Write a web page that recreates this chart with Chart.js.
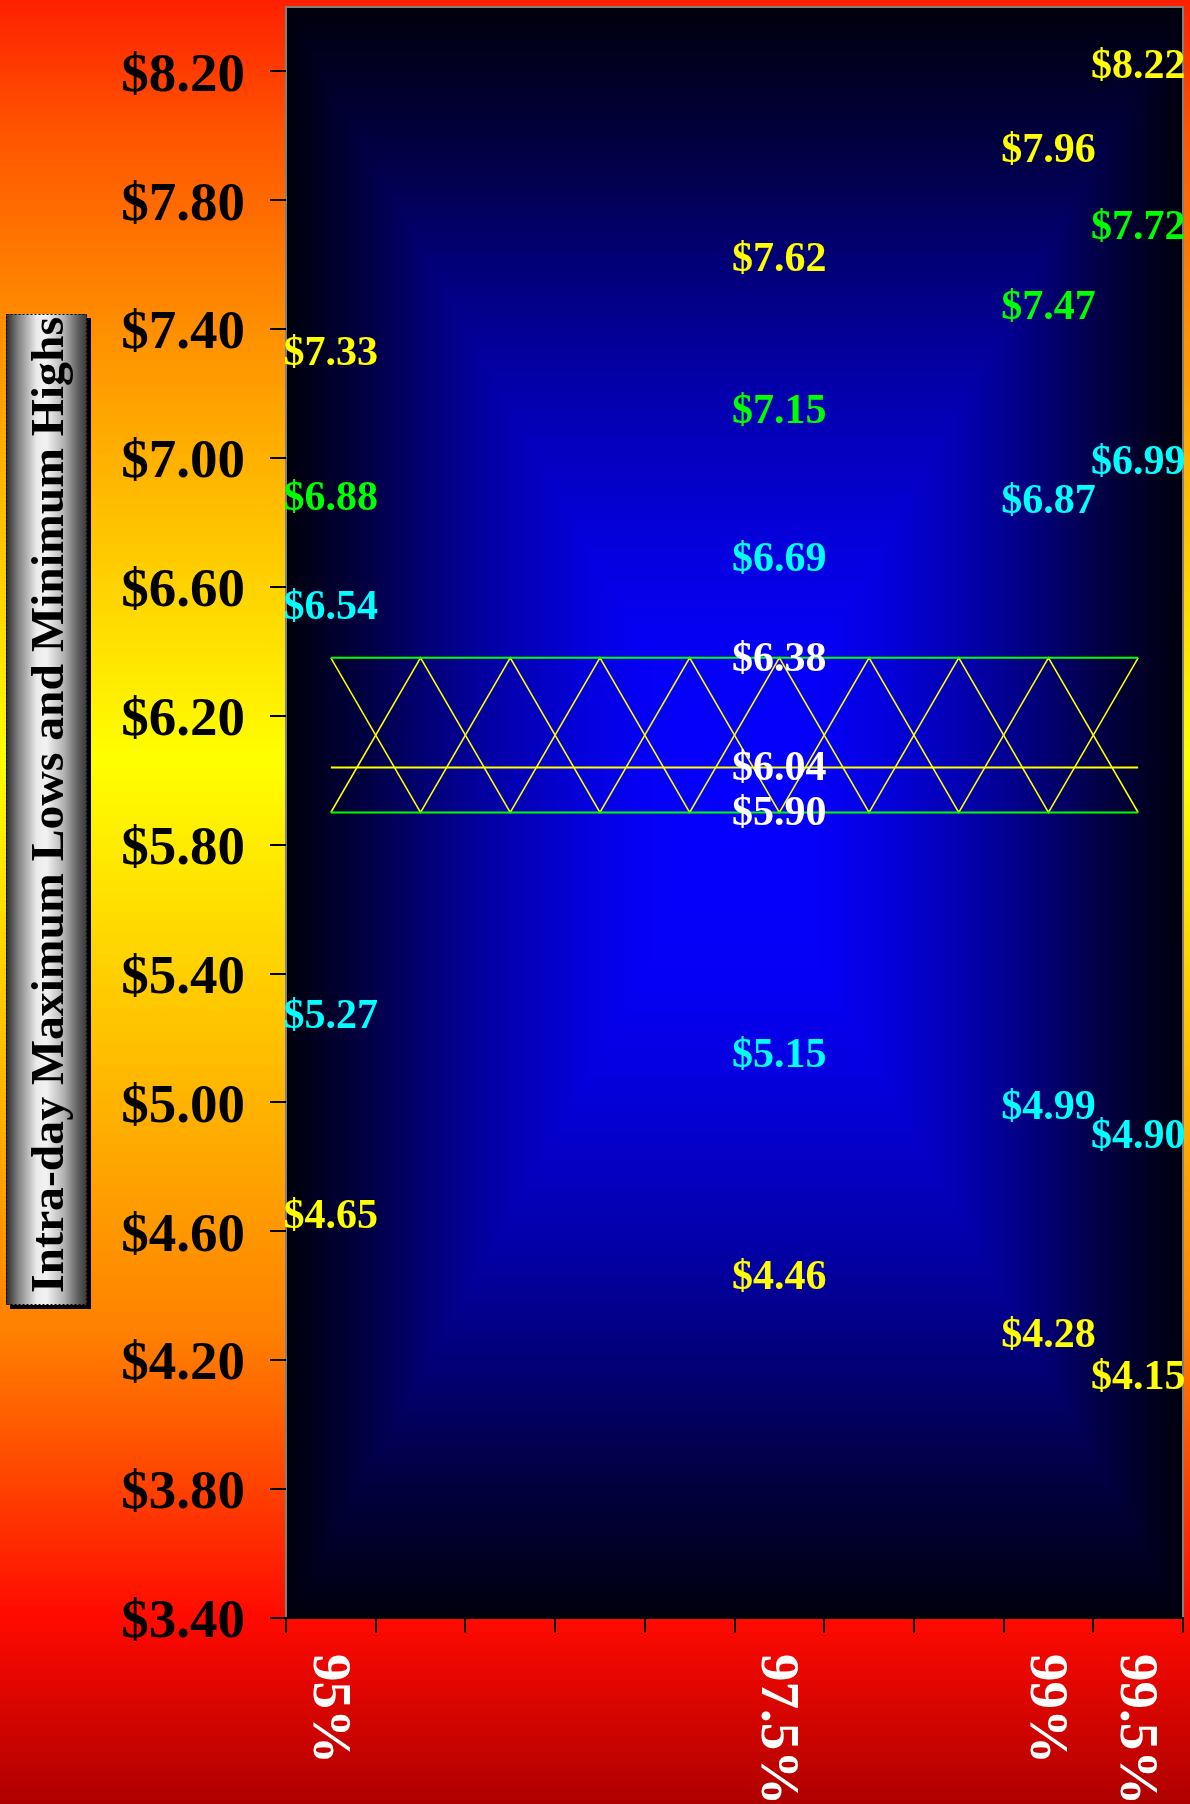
<!DOCTYPE html>
<html>
<head>
<meta charset="utf-8">
<script src="https://cdn.jsdelivr.net/npm/chart.js@4.4.1/dist/chart.umd.min.js"></script>
<style>
  html, body { margin: 0; padding: 0; background: #ff2000; }
  #wrap { width: 1190px; height: 1804px; position: relative; }
</style>
</head>
<body>
<div id="wrap"><canvas id="chart"></canvas></div>
<script>
// ─── DATA ───────────────────────────────────────────────────────
const xLabels = ['95%', '', '', '', '', '97.5%', '', '', '99%', '99.5%'];
const yTicks = [3.4, 3.8, 4.2, 4.6, 5.0, 5.4, 5.8, 6.2, 6.6, 7.0, 7.4, 7.8, 8.2];
const yTitle = 'Intra-day Maximum Lows and Minimum Highs';

// the band in the middle of the plot
const bandTop = [6.38, 6.38, 6.38, 6.38, 6.38, 6.38, 6.38, 6.38, 6.38, 6.38];
const bandMid = [6.04, 6.04, 6.04, 6.04, 6.04, 6.04, 6.04, 6.04, 6.04, 6.04];
const bandLow = [5.90, 5.90, 5.90, 5.90, 5.90, 5.90, 5.90, 5.90, 5.90, 5.90];
const zigDown = [6.38, 5.90, 6.38, 5.90, 6.38, 5.90, 6.38, 5.90, 6.38, 5.90];
const zigUp = [5.90, 6.38, 5.90, 6.38, 5.90, 6.38, 5.90, 6.38, 5.90, 6.38];

// labelled values per confidence level
const outerHigh = [7.33, null, null, null, null, 7.62, null, null, 7.96, 8.22];
const greenHigh = [6.88, null, null, null, null, 7.15, null, null, 7.47, 7.72];
const cyanHigh = [6.54, null, null, null, null, 6.69, null, null, 6.87, 6.99];
const cyanLow = [5.27, null, null, null, null, 5.15, null, null, 4.99, 4.90];
const outerLow = [4.65, null, null, null, null, 4.46, null, null, 4.28, 4.15];
const centreTop = [null, null, null, null, null, 6.38, null, null, null, null];
const centreMid = [null, null, null, null, null, 6.04, null, null, null, null];
const centreLow = [null, null, null, null, null, 5.90, null, null, null, null];

// ─── STYLE ──────────────────────────────────────────────────────
const SERIF = "'Liberation Serif', 'Times New Roman', serif";
// blue level by distance from plot centre (rectangular "from centre" fill)
const glowStops = [[0, 255], [0.2, 245], [0.33, 221], [0.5, 178], [0.61, 144], [0.7, 112], [0.8, 74], [0.9, 42], [1, 12]];

function bandLine(label, data, color, width) {
  return { label, data, borderColor: color, borderWidth: width, pointRadius: 0, tension: 0, fill: false };
}
function labelSet(label, data, color) {
  return { label, data, showLine: false, pointRadius: 0, labelColor: color };
}
function glowAt(t) {
  for (let k = 1; k < glowStops.length; k++) {
    const [t1, b1] = glowStops[k];
    if (t <= t1) {
      const [t0, b0] = glowStops[k - 1];
      return b0 + (b1 - b0) * (t - t0) / (t1 - t0);
    }
  }
  return glowStops[glowStops.length - 1][1];
}

// ─── PLUGINS ────────────────────────────────────────────────────
const backdrop = {
  id: 'backdrop',
  beforeDraw(chart) {
    const { ctx, width, height, chartArea: a } = chart;
    ctx.save();
    const g = ctx.createLinearGradient(0, 0, 0, height);
    g.addColorStop(0, '#ff2000');
    g.addColorStop(0.074, '#ff5500');
    g.addColorStop(0.185, '#ff9000');
    g.addColorStop(0.42, '#ffff00');
    g.addColorStop(0.74, '#ff8000');
    g.addColorStop(0.83, '#ff3d00');
    g.addColorStop(0.897, '#ff0a00');
    g.addColorStop(1, '#ae0000');
    ctx.fillStyle = g;
    ctx.fillRect(0, 0, width, height);
    ctx.restore();

    // plot area fill
    const l = Math.round(a.left), t = Math.round(a.top);
    const w = Math.round(a.right) - l, h = Math.round(a.bottom) - t;
    const img = ctx.createImageData(w, h);
    const hw = w / 2, hh = h / 2;
    for (let y = 0; y < h; y++) {
      const dy = Math.abs(y - hh) / hh;
      for (let x = 0; x < w; x++) {
        const dx = Math.abs(x - hw) / hw;
        const b = glowAt(Math.max(dx, dy));
        const p = (y * w + x) * 4;
        img.data[p] = b * 0.02;
        img.data[p + 1] = 0;
        img.data[p + 2] = b;
        img.data[p + 3] = 255;
      }
    }
    ctx.putImageData(img, l, t);

    ctx.save();
    ctx.strokeStyle = '#808080';
    ctx.lineWidth = 2;
    ctx.strokeRect(a.left, a.top, a.right - a.left, a.bottom - a.top);
    ctx.restore();
  },
};

const valueLabels = {
  id: 'valueLabels',
  afterDatasetsDraw(chart) {
    const ctx = chart.ctx;
    ctx.save();
    ctx.font = `bold 42px ${SERIF}`;
    ctx.textAlign = 'center';
    ctx.textBaseline = 'middle';
    chart.data.datasets.forEach((ds, i) => {
      if (!ds.labelColor) return;
      ctx.fillStyle = ds.labelColor;
      chart.getDatasetMeta(i).data.forEach((pt, j) => {
        const v = ds.data[j];
        if (v == null) return;
        ctx.fillText('$' + v.toFixed(2), pt.x, pt.y + 2);
      });
    });
    ctx.restore();
  },
};

const axisText = {
  id: 'axisText',
  afterDraw(chart) {
    const { ctx, scales: { x } } = chart;
    // category labels, rotated to read top-down
    ctx.save();
    ctx.font = `bold 55px ${SERIF}`;
    ctx.fillStyle = '#ffffff';
    ctx.textAlign = 'left';
    ctx.textBaseline = 'middle';
    xLabels.forEach((lab, i) => {
      if (!lab) return;
      ctx.save();
      ctx.translate(x.getPixelForValue(i) - 3, 1654);
      ctx.rotate(Math.PI / 2);
      ctx.fillText(lab, 0, 0);
      ctx.restore();
    });
    ctx.restore();

    // y title in a shaded cylinder box
    const bx = 6, by = 314, bw = 81, bh = 991;
    ctx.save();
    ctx.fillStyle = '#000';
    ctx.fillRect(bx + 4, by + 4, bw, bh);
    const g = ctx.createLinearGradient(bx, 0, bx + bw, 0);
    g.addColorStop(0, '#2a2a2a');
    g.addColorStop(0.15, '#808080');
    g.addColorStop(0.38, '#ececec');
    g.addColorStop(0.5, '#f2f2f2');
    g.addColorStop(0.72, '#b0b0b0');
    g.addColorStop(0.9, '#5a5a5a');
    g.addColorStop(1, '#3a3a3a');
    ctx.fillStyle = g;
    ctx.fillRect(bx, by, bw, bh);
    ctx.strokeStyle = '#000';
    ctx.lineWidth = 1;
    ctx.setLineDash([2, 2]);
    ctx.strokeRect(bx + 0.5, by + 0.5, bw - 1, bh - 1);
    ctx.setLineDash([]);

    ctx.font = `bold 47px ${SERIF}`;
    ctx.fillStyle = '#000';
    ctx.textAlign = 'center';
    ctx.textBaseline = 'alphabetic';
    const w = ctx.measureText(yTitle).width;
    ctx.translate(63, 805);
    ctx.rotate(-Math.PI / 2);
    ctx.scale(976 / w, 1);
    ctx.fillText(yTitle, 0, 0);
    ctx.restore();
  },
};

// ─── CHART ──────────────────────────────────────────────────────
new Chart(document.getElementById('chart'), {
  type: 'line',
  data: {
    labels: xLabels,
    datasets: [
      labelSet('Upper outer', outerHigh, '#ffff00'),
      labelSet('Upper green', greenHigh, '#00ff00'),
      labelSet('Upper cyan', cyanHigh, '#00ffff'),
      labelSet('Lower cyan', cyanLow, '#00ffff'),
      labelSet('Lower outer', outerLow, '#ffff00'),
      labelSet('Centre top', centreTop, '#ffffff'),
      labelSet('Centre mid', centreMid, '#ffffff'),
      labelSet('Centre low', centreLow, '#ffffff'),
      bandLine('Band top', bandTop, '#00ff00', 2),
      bandLine('Band low', bandLow, '#00ff00', 2),
      bandLine('Band mid', bandMid, '#ffff00', 2),
      bandLine('Zig down', zigDown, '#ffff00', 1.5),
      bandLine('Zig up', zigUp, '#ffff00', 1.5),
    ],
  },
  options: {
    responsive: true,
    maintainAspectRatio: false,
    animation: false,
    devicePixelRatio: 1,
    layout: { padding: { top: 7, right: 7, left: 0, bottom: 0 } },
    plugins: { legend: { display: false }, tooltip: { enabled: false } },
    scales: {
      x: {
        type: 'category',
        offset: true,
        grid: { offset: true, drawOnChartArea: false, color: '#000', lineWidth: 2, tickLength: 15 },
        border: { display: true, color: '#000', width: 2 },
        ticks: { display: false },
        afterFit: (s) => { s.height = 186; s.paddingLeft = 0; s.paddingRight = 0; },
      },
      y: {
        min: 3.4,
        max: 8.4,
        afterBuildTicks: (s) => { s.ticks = yTicks.map((v) => ({ value: v })); },
        grid: { drawOnChartArea: false, color: '#000', lineWidth: 2, tickLength: 16 },
        border: { display: false },
        ticks: {
          color: '#000',
          padding: 25,
          labelOffset: 5,
          font: { family: SERIF, size: 55, weight: 'bold' },
          callback: (v) => '$' + Number(v).toFixed(2),
        },
        afterFit: (s) => { s.width = 286; s.paddingTop = 0; s.paddingBottom = 0; },
      },
    },
  },
  plugins: [backdrop, valueLabels, axisText],
});
</script>
</body>
</html>
